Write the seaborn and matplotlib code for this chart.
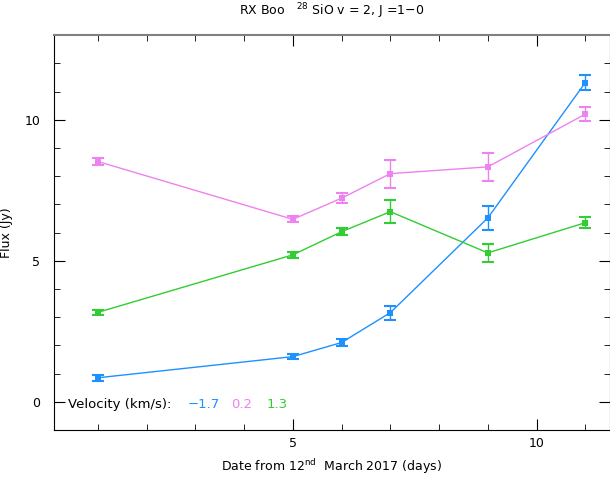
import numpy as np
import pandas as pd
import matplotlib
matplotlib.use("Agg")
import matplotlib.pyplot as plt
import seaborn as sns
from matplotlib.ticker import MultipleLocator

days = [1, 5, 6, 7, 9, 11]
velocities = ["\u22121.7", "0.2", "1.3"]
flux_m17 = [0.85, 1.60, 2.10, 3.16, 6.52, 11.32]
err_m17 = [0.10, 0.10, 0.12, 0.25, 0.42, 0.28]
flux_02 = [8.52, 6.47, 7.22, 8.09, 8.33, 10.20]
err_02 = [0.12, 0.10, 0.17, 0.50, 0.50, 0.25]
flux_13 = [3.17, 5.21, 6.03, 6.74, 5.28, 6.35]
err_13 = [0.10, 0.10, 0.12, 0.41, 0.32, 0.20]
colors = ["#1E90FF", "#EE82EE", "#32CD32"]

fluxes = [flux_m17, flux_02, flux_13]
errs = [err_m17, err_02, err_13]
df = pd.concat([pd.DataFrame({"day": days, "flux": f, "err": e, "vel": v})
                for f, e, v in zip(fluxes, errs, velocities)])

sns.set_style("ticks")
plt.rcParams["font.family"] = ["DejaVu Sans"]
plt.rcParams["text.color"] = "black"
plt.rcParams["axes.labelcolor"] = "black"
plt.rcParams["xtick.color"] = "black"
plt.rcParams["ytick.color"] = "black"
fig = plt.figure(figsize=(6.1, 4.82), dpi=100)
ax = fig.add_axes([0.0885, 0.108, 0.911, 0.819])

pal = dict(zip(velocities, colors))
sns.lineplot(data=df, x="day", y="flux", hue="vel", palette=pal, marker="s",
             markersize=4, markeredgewidth=0, linewidth=1, legend=False, ax=ax)
for v in velocities:
    d = df[df.vel == v]
    ax.errorbar(d.day, d.flux, yerr=d.err, fmt="none", ecolor=pal[v],
                elinewidth=1, capsize=4, capthick=1.5)

ax.set_xlim(0.1, 11.5)
ax.set_ylim(-1, 13)
ax.xaxis.set_major_locator(MultipleLocator(5))
ax.xaxis.set_minor_locator(MultipleLocator(1))
ax.yaxis.set_major_locator(MultipleLocator(5))
ax.yaxis.set_minor_locator(MultipleLocator(1))
ax.tick_params(which="both", direction="in", top=True, right=True,
               labelsize=9, color="black")
ax.tick_params(axis="x", pad=5)
ax.tick_params(axis="y", pad=10)
ax.tick_params(which="major", length=8)
ax.tick_params(which="minor", length=4)
for s in ["left", "bottom", "right"]:
    ax.spines[s].set_color("black")
ax.spines["top"].set_color("#808080")
ax.spines["top"].set_linewidth(1.5)

ax.set_xlabel("Date from 12$^{\\mathregular{nd}}$  March 2017 (days)", fontsize=9,
              labelpad=5)
ax.set_ylabel("Flux (Jy)", fontsize=9, labelpad=8)
ax.set_title("RX Boo   $^{\\mathregular{28}}$ SiO v = 2, J =1\u22120", fontsize=9, pad=14)

ax.text(0.025, 0.065, "Velocity (km/s):", transform=ax.transAxes, fontsize=9.5,
        va="center")
xs = [0.24, 0.318, 0.383]
for x, v, c in zip(xs, velocities, colors):
    ax.text(x, 0.065, v, color=c, transform=ax.transAxes, fontsize=9.5, va="center")

fig.savefig("out.png", dpi=100)
